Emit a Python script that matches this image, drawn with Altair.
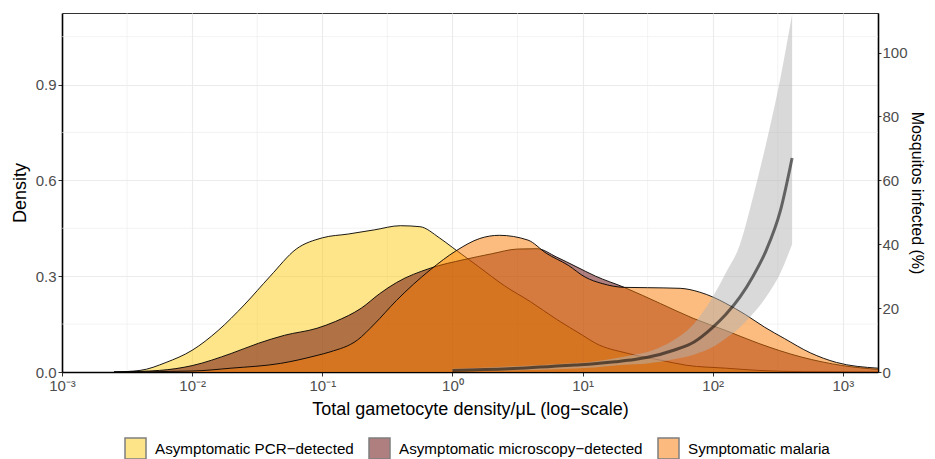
import altair as alt
import pandas as pd

# ---------------- data ----------------
GROUPS = ["Asymptomatic PCR\u2212detected", "Asymptomatic microscopy\u2212detected", "Symptomatic malaria"]
COLORS = ["#FDCB15", "#620000", "#FA7800"]

# log10 gametocyte density / density
pcr_x = [-2.6, -2.4, -2.2, -2.0, -1.8, -1.6, -1.4, -1.2, -1.0, -0.8, -0.6, -0.4, -0.25, -0.1, 0.0, 0.2, 0.4, 0.6, 0.8, 1.0, 1.1, 1.35, 1.6, 1.8, 2.1, 2.35, 2.7, 3.27]
pcr_y = [0.0, 0.005, 0.03, 0.068, 0.13, 0.21, 0.30, 0.385, 0.42, 0.432, 0.445, 0.458, 0.455, 0.42, 0.39, 0.33, 0.27, 0.22, 0.165, 0.115, 0.09, 0.058, 0.037, 0.021, 0.012, 0.005, 0.001, 0.0]

mic_x = [-2.6, -2.25, -2.0, -1.7, -1.49, -1.29, -1.04, -0.9, -0.7, -0.56, -0.43, -0.17, 0.09, 0.3, 0.5, 0.65, 0.8, 0.95, 1.1, 1.32, 1.6, 1.85, 2.1, 2.35, 2.68, 3.0, 3.27]
mic_y = [0.0, 0.005, 0.02, 0.058, 0.09, 0.115, 0.137, 0.158, 0.2, 0.245, 0.28, 0.325, 0.352, 0.37, 0.385, 0.386, 0.36, 0.33, 0.30, 0.265, 0.214, 0.168, 0.13, 0.09, 0.047, 0.02, 0.008]

sym_x = [-2.6, -2.0, -1.7, -1.32, -1.04, -0.94, -0.73, -0.6, -0.43, -0.17, 0.03, 0.21, 0.36, 0.58, 0.72, 0.89, 1.02, 1.15, 1.32, 1.5, 1.75, 1.9, 2.0, 2.1, 2.25, 2.4, 2.55, 2.75, 2.95, 3.27]
sym_y = [0.0, 0.003, 0.012, 0.027, 0.052, 0.063, 0.1, 0.15, 0.224, 0.32, 0.38, 0.418, 0.428, 0.413, 0.372, 0.334, 0.297, 0.277, 0.265, 0.264, 0.262, 0.25, 0.235, 0.215, 0.18, 0.14, 0.105, 0.06, 0.03, 0.012]

# mosquito infection curve (%), with confidence band
mosq_x = [0.0, 0.43, 0.94, 1.09, 1.25, 1.4, 1.5, 1.7, 1.86, 2.0, 2.1, 2.21, 2.31, 2.41, 2.52, 2.61]
mosq_fit = [0.5, 1.0, 2.2, 2.6, 3.2, 3.9, 4.6, 6.8, 9.5, 14.0, 18.0, 23.5, 30.0, 38.0, 50.5, 67.0]
mosq_hi = [1.0, 1.7, 2.8, 3.3, 4.3, 5.5, 6.3, 10.0, 15.3, 23.5, 31.0, 40.0, 54.8, 71.5, 92.0, 112.0]
mosq_lo = [0.2, 0.5, 1.1, 1.4, 2.0, 2.4, 2.7, 4.0, 5.5, 7.8, 10.5, 14.0, 18.3, 23.5, 31.0, 40.0]

LOG_TICKS = [-3, -2, -1, 0, 1, 2, 3]
TICK_LABELS = ["10\u207b\u00b3", "10\u207b\u00b2", "10\u207b\u00b9", "10\u2070", "10\u00b9", "10\u00b2", "10\u00b3"]
DENSITY_TICKS = [0.0, 0.3, 0.6, 0.9]
MOSQ_TICKS = [0, 20, 40, 60, 80, 100]
MINOR_X = [-2.5, -1.5, -0.5, 0.5, 1.5, 2.5]
MINOR_Y = [0.15, 0.45, 0.75, 1.05]

X_DOMAIN = [-3, 3.27]
Y_DOMAIN = [0, 1.124]
Y2_DOMAIN = [0, 112.4]

FONT = "Liberation Sans"
GRID = "#EBEBEB"

# ---------------- chart ----------------
label_expr = "[" + ",".join("'%s'" % t for t in TICK_LABELS) + "][datum.value + 3]"

xscale = alt.Scale(domain=X_DOMAIN, nice=False, zero=False)
yscale = alt.Scale(domain=Y_DOMAIN, nice=False, zero=False)

x_enc = alt.X("lx:Q", scale=xscale, axis=alt.Axis(
    values=LOG_TICKS, labelExpr=label_expr, title="Total gametocyte density/\u03bcL (log\u2212scale)",
    grid=True, gridColor=GRID, gridWidth=1.1, domainColor="black", domainWidth=1.6,
    tickColor="#333333", tickSize=4, labelColor="#4D4D4D", labelFontSize=15, labelPadding=2,
    titleFontSize=18, titleColor="black", titleFontWeight="normal", titlePadding=7, labelFlush=False))

legend = alt.Legend(title=None, orient="none", legendX=62, legendY=424, direction="horizontal",
                    symbolType="square", symbolSize=441, symbolStrokeColor="black", symbolStrokeWidth=1.5,
                    labelFontSize=15.2, labelColor="black", labelFont=FONT, labelOffset=8, columnPadding=12,
                    labelLimit=0)

fill_enc = alt.Fill("group:N", scale=alt.Scale(domain=GROUPS, range=COLORS), legend=legend, sort=GROUPS)

# grid (minor)
minor_x_df = pd.DataFrame({"lx": MINOR_X})
minor_y_df = pd.DataFrame({"d": MINOR_Y})
grid_v = alt.Chart(minor_x_df).mark_rule(color=GRID, strokeWidth=0.6).encode(x=alt.X("lx:Q", scale=xscale))
grid_h = alt.Chart(minor_y_df).mark_rule(color=GRID, strokeWidth=0.6).encode(y=alt.Y("d:Q", scale=yscale))

y_enc = alt.Y("d:Q", scale=yscale, axis=alt.Axis(
    values=DENSITY_TICKS, format=".1f", title="Density", orient="left",
    grid=True, gridColor=GRID, gridWidth=1.1, domainColor="black", domainWidth=1.6,
    tickColor="#333333", tickSize=4, labelColor="#4D4D4D", labelFontSize=15, labelPadding=2,
    titleFontSize=18, titleColor="black", titleFontWeight="normal", titlePadding=6))

layers = [grid_v, grid_h]
for g, xs, ys in [(GROUPS[0], pcr_x, pcr_y), (GROUPS[1], mic_x, mic_y), (GROUPS[2], sym_x, sym_y)]:
    df = pd.DataFrame({"lx": xs, "d": ys, "group": g})
    base = alt.Chart(df)
    layers.append(
        base.mark_area(interpolate="monotone", opacity=0.5, clip=True)
        .encode(x=x_enc, y=y_enc, fill=fill_enc)
    )
    layers.append(
        base.mark_line(interpolate="monotone", color="black", strokeWidth=0.9, clip=True)
        .encode(x=x_enc, y=y_enc)
    )

density = alt.layer(*layers)

mdf = pd.DataFrame({"lx": mosq_x, "fit": mosq_fit, "hi": mosq_hi, "lo": mosq_lo})
y2scale = alt.Scale(domain=Y2_DOMAIN, nice=False, zero=False)
y2_axis = alt.Axis(values=MOSQ_TICKS, title="Mosquitos infected (%)", orient="right",
                   grid=False, domainColor="black", domainWidth=1.6,
                   tickColor="#333333", tickSize=3, labelColor="#4D4D4D", labelFontSize=15, labelPadding=1,
                   titleFontSize=16, titleColor="black", titleFontWeight="normal", titlePadding=1)
band = alt.Chart(mdf).mark_area(interpolate="monotone", color="#B3B3B3", opacity=0.5, clip=True).encode(
    x=alt.X("lx:Q", scale=xscale),
    y=alt.Y("hi:Q", scale=y2scale, axis=y2_axis),
    y2="lo:Q")
line = alt.Chart(mdf).mark_line(interpolate="monotone", color="black", opacity=0.55, strokeWidth=3, clip=True).encode(
    x=alt.X("lx:Q", scale=xscale),
    y=alt.Y("fit:Q", scale=y2scale, axis=y2_axis))
mosq = alt.layer(band, line)

chart = alt.layer(density, mosq).resolve_scale(y="independent").properties(
    width=816, height=359,
    autosize=alt.AutoSizeParams(type="none"),
    padding={"left": 54, "top": 5, "right": 49, "bottom": 87},
).configure(font=FONT).configure_view(stroke="#333333", strokeWidth=1)

chart.save("out.html", embed_options={"renderer": "svg", "actions": False})
